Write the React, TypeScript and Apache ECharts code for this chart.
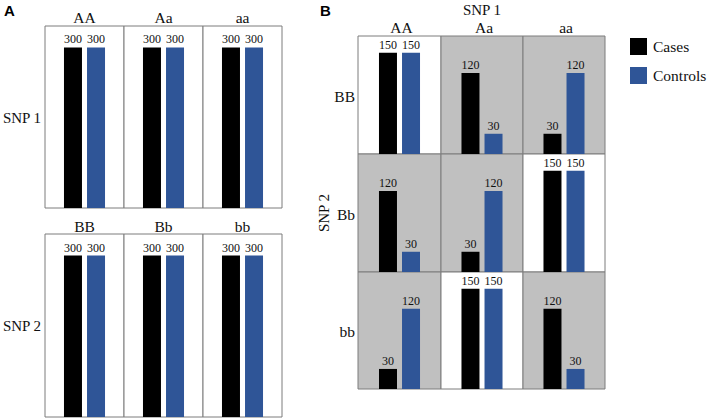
import React, { useEffect, useRef } from "react";
import * as echarts from "echarts";

const snp1Genotypes = ["AA", "Aa", "aa"];
const snp2Genotypes = ["BB", "Bb", "bb"];
const seriesNames = ["Cases", "Controls"];
const marginalCases1 = [300, 300, 300];
const marginalControls1 = [300, 300, 300];
const marginalCases2 = [300, 300, 300];
const marginalControls2 = [300, 300, 300];
// rows: BB, Bb, bb ; columns: AA, Aa, aa
const jointCases = [
  [150, 120, 30],
  [120, 30, 150],
  [30, 150, 120],
];
const jointControls = [
  [150, 30, 120],
  [30, 120, 150],
  [120, 150, 30],
];

const SERIF = "'Liberation Serif', serif";
const BLACK = "#000000";
const BLUE = "#2f5597";
const GRAY = "#c0c0c0";
const BORDER = "#7c7c7c";

export default function App() {
  const ref = useRef<HTMLDivElement>(null);
  useEffect(() => {
    document.body.style.margin = "0";
    const chart = echarts.init(ref.current!, null, { renderer: "svg" });
    const grids: any[] = [];
    const xAxes: any[] = [];
    const yAxes: any[] = [];
    const series: any[] = [];
    const graphics: any[] = [];

    const addCell = (
      left: number,
      top: number,
      width: number,
      height: number,
      max: number,
      cases: number,
      controls: number,
      bg: string
    ) => {
      const idx = grids.length;
      grids.push({
        left,
        top,
        width,
        height,
        show: true,
        backgroundColor: bg,
        borderColor: BORDER,
        borderWidth: 1,
        containLabel: false,
      });
      xAxes.push({
        type: "category",
        gridIndex: idx,
        data: ["g"],
        show: false,
      });
      yAxes.push({
        type: "value",
        gridIndex: idx,
        min: 0,
        max,
        show: false,
        splitLine: { show: false },
      });
      [cases, controls].forEach((v, k) => {
        series.push({
          type: "bar",
          name: seriesNames[k],
          xAxisIndex: idx,
          yAxisIndex: idx,
          data: [v],
          barWidth: 18,
          barGap: "28%",
          itemStyle: { color: k === 0 ? BLACK : BLUE },
          label: {
            show: true,
            position: "top",
            distance: 2,
            fontFamily: SERIF,
            fontSize: 12,
            color: "#111",
          },
        });
      });
    };

    const txt = (x: number, y: number, text: string, size: number, align = "center", extra: any = {}) => ({
      type: "text",
      x,
      y,
      ...extra,
      style: { text, fontFamily: SERIF, fontSize: size, fill: "#111", align, verticalAlign: "middle" },
    });

    // Panel A
    const aX = [45, 124, 203];
    const aW = 79;
    snp1Genotypes.forEach((g, i) => {
      addCell(aX[i], 26, aW, 182, 340, marginalCases1[i], marginalControls1[i], "#ffffff");
      graphics.push(txt(aX[i] + aW / 2, 17, g, 15.5));
    });
    snp2Genotypes.forEach((g, i) => {
      addCell(aX[i], 234, aW, 183, 340, marginalCases2[i], marginalControls2[i], "#ffffff");
      graphics.push(txt(aX[i] + aW / 2, 226, g, 15.5));
    });
    graphics.push(txt(22, 118, "SNP 1", 15));
    graphics.push(txt(22, 326, "SNP 2", 15));
    graphics.push({
      type: "text", x: 4, y: 3,
      style: { text: "A", fontFamily: "'Liberation Sans', sans-serif", fontWeight: "bold", fontSize: 15, fill: "#000" },
    });

    // Panel B
    const bX = [358, 441, 523];
    const bW = [83, 82, 82];
    const bY = [36, 154, 272];
    const bH = [118, 118, 117];
    snp2Genotypes.forEach((rg, r) => {
      snp1Genotypes.forEach((cg, c) => {
        const cs = jointCases[r][c];
        const ct = jointControls[r][c];
        addCell(bX[c], bY[r], bW[c], bH[r], 175, cs, ct, cs === ct ? "#ffffff" : GRAY);
      });
      graphics.push(txt(355, bY[r] + bH[r] / 2 + 1, rg, 15.5, "right"));
    });
    snp1Genotypes.forEach((cg, c) => {
      graphics.push(txt(bX[c] + bW[c] / 2 + 2, 27, cg, 15.5));
    });
    graphics.push(txt(482, 10, "SNP 1", 15));
    graphics.push(txt(324, 213, "SNP 2", 15, "center", { rotation: Math.PI / 2 }));
    graphics.push({
      type: "text", x: 320, y: 3,
      style: { text: "B", fontFamily: "'Liberation Sans', sans-serif", fontWeight: "bold", fontSize: 15, fill: "#000" },
    });

    chart.setOption({
      animation: false,
      backgroundColor: "#ffffff",
      textStyle: { fontFamily: SERIF },
      grid: grids,
      xAxis: xAxes,
      yAxis: yAxes,
      series,
      legend: {
        data: seriesNames,
        orient: "vertical",
        left: 630,
        top: 38,
        padding: 0,
        icon: "rect",
        itemWidth: 17,
        itemHeight: 17,
        itemGap: 12,
        textStyle: { fontFamily: SERIF, fontSize: 15.5, color: "#111", padding: [0, 0, 0, 1] },
      },
      graphic: graphics,
    });
    return () => chart.dispose();
  }, []);
  return <div ref={ref} style={{ width: 708, height: 420 }} />;
}
